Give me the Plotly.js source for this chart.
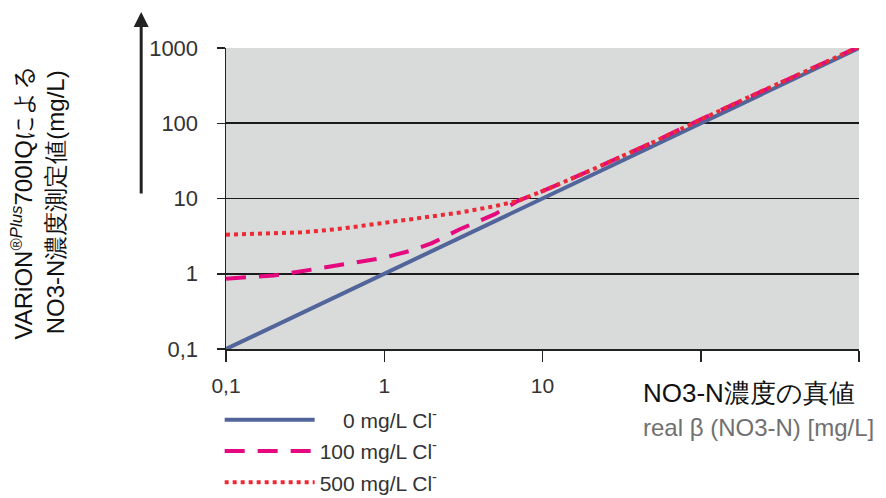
<!DOCTYPE html>
<html><head><meta charset="utf-8">
<script src="https://cdn.plot.ly/plotly-3.0.1.min.js"></script>
<style>html,body{margin:0;padding:0;background:#fff}#c{width:886px;height:498px}</style>
</head><body><div id="c"></div>
<script>
const xTrue = [0.1, 0.2, 0.3, 0.5, 0.7, 1, 1.5, 2, 3, 5, 7, 10, 20, 50, 100, 200, 500, 1000];
const y0Cl = [0.1, 0.2, 0.3, 0.5, 0.7, 1, 1.5, 2, 3, 5, 7, 10, 20, 50, 100, 200, 500, 1000];
const y100Cl = [0.86, 0.95, 1.08, 1.27, 1.42, 1.63, 2.05, 2.55, 3.9, 6.2, 9.3, 12.5, 23.5, 56, 113, 222, 530, 1040];
const y500Cl = [3.3, 3.4, 3.55, 3.9, 4.3, 4.7, 5.3, 5.75, 6.5, 7.9, 9.3, 12.5, 23.5, 56, 113, 222, 530, 1040];
const seriesNames = ['\u00a0\u00a0\u00a0\u00a00 mg/L Cl<sup>-</sup>', '100 mg/L Cl<sup>-</sup>', '500 mg/L Cl<sup>-</sup>'];
const xTickVals = [0.1, 1, 10, 100, 1000];
const xTickText = ['0,1', '1', '10', '', ''];
const yTickVals = [0.1, 1, 10, 100, 1000];
const yTickText = ['0,1', '1', '10', '100', '1000'];

const FONT = 'Liberation Sans, Arial, sans-serif';
const traces = [
  {x: xTrue, y: y0Cl, name: seriesNames[0], mode: 'lines', legendgroup: 'a',
   line: {color: '#52659a', width: 4}},
  {x: xTrue, y: y100Cl, name: seriesNames[1], mode: 'lines', legendgroup: 'b',
   line: {color: '#e5087f', width: 4, dash: '20px,13px'}},
  {x: xTrue, y: y500Cl, name: seriesNames[2], mode: 'lines', legendgroup: 'c',
   line: {color: '#ec2a36', width: 4, dash: '4px,4px'}}
];
const layout = {
  width: 886, height: 498,
  margin: {l: 226, r: 27, t: 48, b: 149, autoexpand: false},
  paper_bgcolor: '#ffffff', plot_bgcolor: '#d9dada',
  font: {family: FONT, size: 21, color: '#333'},
  showlegend: true,
  legend: {x: -0.01, y: -0.168, xanchor: 'left', yanchor: 'top', bgcolor: 'rgba(0,0,0,0)',
    font: {family: FONT, size: 21, color: '#333'}, tracegroupgap: 1, itemwidth: 90},
  xaxis: {type: 'log', range: [-1, 3], tickvals: xTickVals, ticktext: xTickText,
    showgrid: false, zeroline: false, showline: true, linecolor: '#222', linewidth: 1.5,
    ticks: 'outside', ticklen: 11, tickwidth: 1.5, tickcolor: '#222', ticklabelstandoff: 6,
    tickfont: {family: FONT, size: 21, color: '#333'}},
  yaxis: {type: 'log', range: [-1, 3], tickvals: yTickVals, ticktext: yTickText,
    showgrid: true, gridcolor: '#1a1a1a', gridwidth: 1.7, zeroline: false,
    showline: true, linecolor: '#222', linewidth: 1.5,
    ticks: 'outside', ticklen: 8, tickwidth: 1.5, tickcolor: '#222', ticklabelstandoff: 14,
    tickfont: {family: FONT, size: 22, color: '#333'}},
  annotations: [
    {xref: 'paper', yref: 'paper', x: -0.134, y: 1.12, ax: 0, ay: 183, text: '',
     showarrow: true, arrowhead: 2, arrowsize: 1, arrowwidth: 3, arrowcolor: '#222'},
    {xref: 'paper', yref: 'paper', x: -0.298, y: 0.488, xanchor: 'center', yanchor: 'middle',
     textangle: -90, showarrow: false, align: 'center',
     font: {family: FONT, size: 24, color: '#111'},
     text: 'VARiON<sup>®<i>Plus</i></sup>700IQによる<br>NO3-N濃度測定値(mg/L)'},
    {xref: 'paper', yref: 'paper', x: 0.655, y: -0.145, xanchor: 'left', yanchor: 'middle',
     showarrow: false, font: {family: FONT, size: 26, color: '#111'}, text: 'NO3-N濃度の真値'},
    {xref: 'paper', yref: 'paper', x: 0.655, y: -0.262, xanchor: 'left', yanchor: 'middle',
     showarrow: false, font: {family: FONT, size: 24, color: '#707070'}, text: 'real β (NO3-N) [mg/L]'}
  ]
};
Plotly.newPlot('c', traces, layout, {displayModeBar: false, staticPlot: true});
</script></body></html>
